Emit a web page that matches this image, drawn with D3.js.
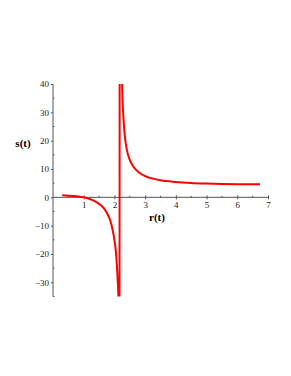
<!DOCTYPE html>
<html>
<head>
<meta charset="utf-8">
<script src="https://cdn.jsdelivr.net/npm/d3@7"></script>
<style>
  body { margin: 0; background: #fff; }
  svg { display: block; }
</style>
</head>
<body>
<div id="plot"></div>
<script>
  'use strict';

  const FONT_FAMILY = 'Liberation Serif, Times New Roman, serif';
  const WIDTH = 291;
  const HEIGHT = 376;

  // Left branch of the curve.
  const leftR = [0.30, 0.50, 0.70, 0.90, 1.00, 1.20, 1.40, 1.60, 1.70, 1.80, 1.90, 1.95, 2.00, 2.05, 2.08, 2.11, 2.13, 2.15, 2.16];
  const leftS = [0.7, 0.6, 0.45, 0.15, 0.0, -0.6, -1.6, -3.2, -4.5, -6.5, -9.5, -12, -15, -19.5, -24, -30, -35, -60, -130];

  // Right branch of the curve.
  const rightR = [2.18, 2.20, 2.22, 2.25, 2.30, 2.35, 2.40, 2.50, 2.62, 2.80, 3.00, 3.25, 3.50, 4.00, 4.50, 5.00, 5.50, 6.00, 6.74];
  const rightS = [200, 90, 60, 40, 27, 20.5, 17, 13.2, 10.8, 8.8, 7.5, 6.6, 6.0, 5.4, 5.05, 4.85, 4.72, 4.65, 4.6];

  const xTicks = [1, 2, 3, 4, 5, 6, 7];
  const yTicks = [-30, -20, -10, 0, 10, 20, 30, 40];
  const xMinor = [0.5, 1.5, 2.5, 3.5, 4.5, 5.5, 6.5];
  const yMinor = [-35, -25, -15, -5, 5, 15, 25, 35];

  let points = leftR.map((r, i) => ({r: r, s: leftS[i]}))
    .concat(rightR.map((r, i) => ({r: r, s: rightS[i]})));

  let x = d3.scaleLinear().domain([0, 7]).range([53, 268]);
  let y = d3.scaleLinear().domain([-35, 40]).range([296.5, 84]);

  let svg = d3.select('#plot')
    .append('svg')
    .attr('width', WIDTH)
    .attr('height', HEIGHT)
    .style('font-family', FONT_FAMILY);

  svg.append('clipPath')
    .attr('id', 'clip')
    .append('rect')
    .attr('x', x(0))
    .attr('y', y(40))
    .attr('width', x(7) - x(0))
    .attr('height', y(-35) - y(40));

  const AXIS_COLOR = '#555';

  // x axis along s = 0
  let xAxis = svg.append('g')
    .attr('transform', 'translate(0,' + y(0) + ')')
    .call(d3.axisBottom(x).tickValues(xTicks).tickSize(2).tickPadding(2)
      .tickFormat(d3.format('d')));
  xAxis.select('.domain').attr('stroke', AXIS_COLOR).attr('d', 'M' + x(0) + ',0H' + x(7));
  xAxis.selectAll('.tick line').attr('stroke', AXIS_COLOR).attr('y1', -2);
  xAxis.selectAll('.tick text').style('font-size', '9px').attr('fill', '#222')
    .style('font-family', FONT_FAMILY);
  xAxis.selectAll('line.minor')
    .data(xMinor)
    .enter()
    .append('line')
    .attr('class', 'minor')
    .attr('x1', d => x(d)).attr('x2', d => x(d))
    .attr('y1', -1.5).attr('y2', 0)
    .attr('stroke', AXIS_COLOR);

  // y axis along r = 0
  let yAxis = svg.append('g')
    .attr('transform', 'translate(' + x(0) + ',0)')
    .call(d3.axisLeft(y).tickValues(yTicks).tickSize(2).tickPadding(2)
      .tickFormat(d => d < 0 ? '\u2212' + Math.abs(d) : d));
  yAxis.select('.domain').attr('stroke', AXIS_COLOR).attr('d', 'M0,' + y(-35) + 'V' + y(40));
  yAxis.selectAll('.tick line').attr('stroke', AXIS_COLOR);
  yAxis.selectAll('.tick text').style('font-size', '9px').attr('fill', '#222')
    .style('font-family', FONT_FAMILY);
  yAxis.selectAll('line.minor')
    .data(yMinor)
    .enter()
    .append('line')
    .attr('class', 'minor')
    .attr('y1', d => y(d)).attr('y2', d => y(d))
    .attr('x1', 0).attr('x2', 1.5)
    .attr('stroke', AXIS_COLOR);

  // Axis titles.
  svg.append('text')
    .attr('x', 23)
    .attr('y', 147)
    .attr('text-anchor', 'middle')
    .style('font-size', '11px')
    .style('font-weight', 'bold')
    .text('s(t)');

  svg.append('text')
    .attr('x', 157)
    .attr('y', 221)
    .attr('text-anchor', 'middle')
    .style('font-size', '11px')
    .style('font-weight', 'bold')
    .text('r(t)');

  // The curve.
  let line = d3.line()
    .x(p => x(p.r))
    .y(p => y(p.s))
    .curve(d3.curveMonotoneX);

  svg.append('path')
    .datum(points)
    .attr('clip-path', 'url(#clip)')
    .attr('d', line)
    .attr('fill', 'none')
    .attr('stroke', '#ff0000')
    .attr('stroke-width', 2);
</script>
</body>
</html>
